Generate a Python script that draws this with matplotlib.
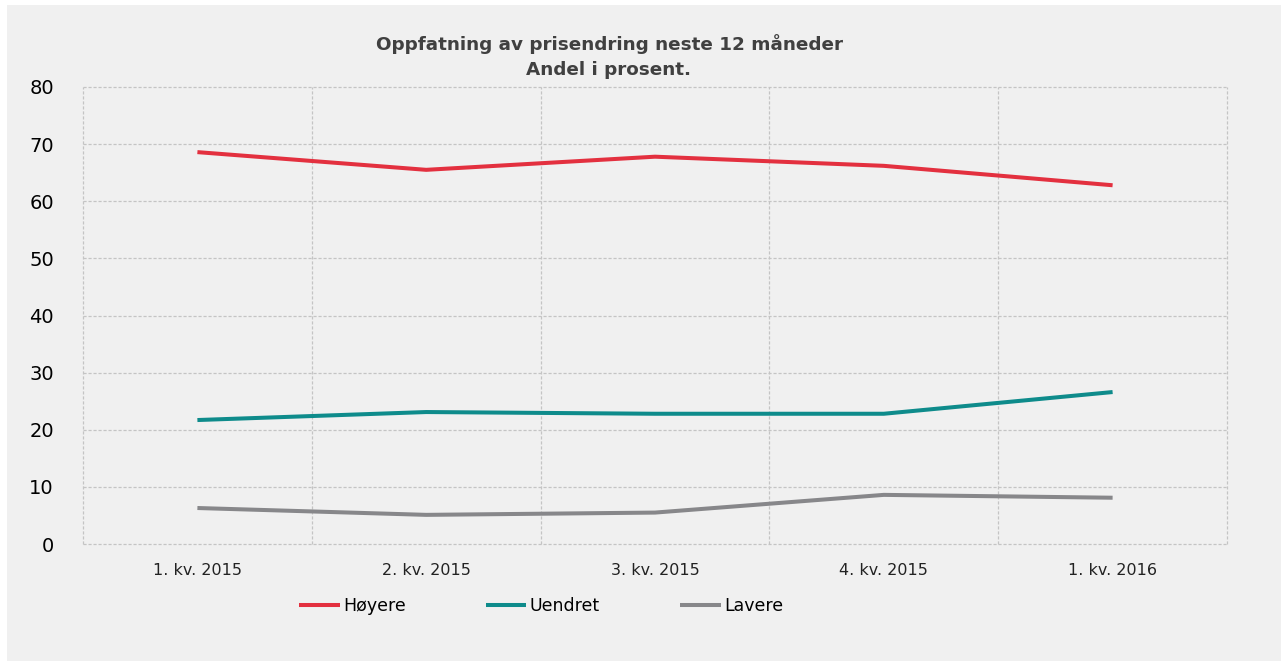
import numpy as np
from matplotlib import pyplot as plt
from matplotlib.patches import Rectangle

# data
quarters = ['1. kv. 2015', '2. kv. 2015', '3. kv. 2015', '4. kv. 2015', '1. kv. 2016']
hoyere = [68.6, 65.5, 67.8, 66.2, 62.8]
uendret = [21.7, 23.1, 22.8, 22.8, 26.6]
lavere = [6.3, 5.1, 5.5, 8.6, 8.1]

series_names = ['Høyere', 'Uendret', 'Lavere']
series_colors = ['#E3303F', '#0E8B8B', '#87878A']

W, H = 1281, 661
bg = '#F0F0F0'

fig = plt.figure(figsize=(W / 100, H / 100), dpi=100)
fig.patch.set_facecolor('white')

# gray panel with a thin white margin top/left
fig.patches.append(Rectangle((7 / W, 0), 1 - 7 / W, 1 - 5 / H, transform=fig.transFigure,
                             facecolor=bg, edgecolor='none', zorder=-5))

ax = fig.add_axes([83 / W, 1 - 544 / H, (1227 - 83) / W, (544 - 87) / H])
ax.set_facecolor(bg)

x = np.arange(len(quarters)) + 0.5
for vals, name, col in zip([hoyere, uendret, lavere], series_names, series_colors):
    ax.plot(x, vals, color=col, lw=2.9, label=name, solid_capstyle='butt',
            solid_joinstyle='round', zorder=3)

ax.set_xlim(0, len(quarters))
ax.set_ylim(0, 80)
ax.set_yticks(np.arange(0, 81, 10))
ax.set_xticks(x)
ax.set_xticklabels(quarters)
ax.set_xticks(np.arange(0, len(quarters) + 1), minor=True)

for s in ax.spines.values():
    s.set_visible(False)

gridkw = dict(color='#C4C4C4', lw=0.9, ls=(0, (2.5, 1.5)))
ax.grid(axis='y', which='major', **gridkw)
ax.grid(axis='x', which='minor', **gridkw)
ax.grid(axis='x', which='major', visible=False)
ax.set_axisbelow(True)

ax.tick_params(axis='y', length=0, pad=21, labelsize=14, labelcolor='black')
ax.tick_params(axis='x', which='both', length=0, pad=14, labelsize=11.5, labelcolor='#222222')

# edge gridlines (0 line, right border) should not be clipped in half
for gl in ax.get_ygridlines() + ax.xaxis.get_minorticklines():
    gl.set_clip_on(False)
for t in ax.yaxis.get_major_ticks() + ax.xaxis.get_minor_ticks():
    t.gridline.set_clip_on(False)

fig.text(609 / W, 1 - 44 / H, 'Oppfatning av prisendring neste 12 måneder',
         ha='center', va='center', fontsize=13.2, fontweight='bold', color='#404040')
fig.text(609 / W, 1 - 70 / H, 'Andel i prosent.',
         ha='center', va='center', fontsize=13.2, fontweight='bold', color='#404040')

leg = fig.legend(*ax.get_legend_handles_labels(), loc='center', ncol=3,
                 bbox_to_anchor=(541 / W, 1 - 606 / H), frameon=False,
                 handlelength=2.35, handletextpad=0.2, columnspacing=4.6,
                 borderpad=0, borderaxespad=0, fontsize=12.5)

fig.savefig('out.png', dpi=100, facecolor=fig.get_facecolor())
